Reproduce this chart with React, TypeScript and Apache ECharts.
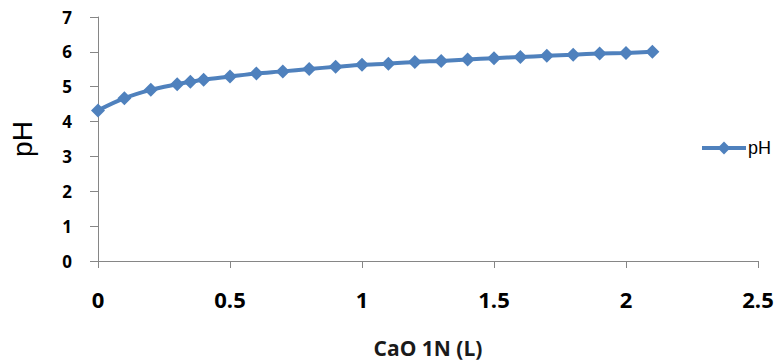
import React, { useEffect, useRef } from "react";
import * as echarts from "echarts";

const xValues = [0, 0.1, 0.2, 0.3, 0.35, 0.4, 0.5, 0.6, 0.7, 0.8, 0.9, 1.0, 1.1, 1.2, 1.3, 1.4, 1.5, 1.6, 1.7, 1.8, 1.9, 2.0, 2.1];
const phValues = [4.32, 4.67, 4.91, 5.07, 5.14, 5.2, 5.29, 5.38, 5.44, 5.51, 5.57, 5.63, 5.66, 5.71, 5.74, 5.78, 5.82, 5.85, 5.89, 5.92, 5.95, 5.97, 6.0];
const seriesName = "pH";
const xTitle = "CaO 1N (L)";
const yTitle = "pH";

const FONT = "'Open Sans', 'Liberation Sans', sans-serif";
const ARIAL = "'Liberation Sans', Arial, sans-serif";

export default function App() {
  const ref = useRef<HTMLDivElement>(null);
  useEffect(() => {
    if (!ref.current) return;
    const chart = echarts.init(ref.current, undefined, { renderer: "svg" });
    const axisGray = "#868686";
    chart.setOption({
      animation: false,
      textStyle: { fontFamily: FONT },
      grid: { left: 98, right: 20, top: 17, bottom: 102, containLabel: false },
      legend: {
        left: 700,
        top: 139,
        padding: 0,
        itemWidth: 44,
        itemHeight: 16,
        itemGap: 4,
        lineStyle: { width: 4 },
        textStyle: { fontSize: 18, color: "#000", fontFamily: ARIAL, padding: [0, 0, 0, -3] },
        data: [{ name: seriesName }],
      },
      xAxis: {
        type: "value",
        min: 0,
        max: 2.5,
        interval: 0.5,
        name: xTitle,
        nameLocation: "middle",
        nameGap: 76,
        nameTextStyle: { fontSize: 21, fontWeight: "bold", color: "#1a1a1a", fontFamily: FONT },
        axisLine: { show: true, lineStyle: { color: axisGray, width: 1 } },
        axisTick: { show: true, inside: false, length: 7, lineStyle: { color: axisGray } },
        axisLabel: { fontSize: 22, fontWeight: "bold", color: "#000", margin: 27, fontFamily: FONT },
        splitLine: { show: false },
      },
      yAxis: {
        type: "value",
        min: 0,
        max: 7,
        interval: 1,
        name: yTitle,
        nameLocation: "middle",
        nameGap: 62,
        nameTextStyle: { fontSize: 28, color: "#000", fontFamily: ARIAL },
        axisLine: { show: true, lineStyle: { color: axisGray, width: 1 } },
        axisTick: { show: true, inside: false, length: 8, lineStyle: { color: axisGray } },
        axisLabel: { fontSize: 17, fontWeight: "bold", color: "#000", margin: 26, fontFamily: FONT },
        splitLine: { show: false },
      },
      series: [
        {
          name: seriesName,
          type: "line",
          data: xValues.map((x, i) => [x, phValues[i]]),
          smooth: 0.3,
          symbol: "diamond",
          symbolSize: 14,
          lineStyle: { color: "#4F81BD", width: 4 },
          itemStyle: { color: "#4F81BD" },
        },
      ],
    });
    return () => chart.dispose();
  }, []);
  return <div ref={ref} style={{ width: 778, height: 363, position: "absolute", left: 0, top: 0 }} />;
}
